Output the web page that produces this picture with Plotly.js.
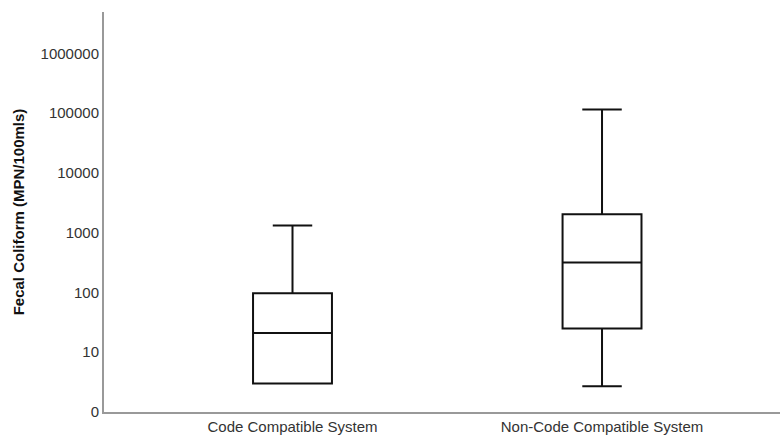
<!DOCTYPE html>
<html>
<head>
<meta charset="utf-8">
<script src="https://cdn.plot.ly/plotly-3.0.1.min.js"></script>
<style>html,body{margin:0;padding:0;background:#fff;}#chart{width:780px;height:439px;}</style>
</head>
<body>
<div id="chart"></div>
<script>
var categories = ["Code Compatible System", "Non-Code Compatible System"];
var lowerWhisker = [3, 2.7];
var q1Values = [3, 25];
var medianValues = [21, 318];
var q3Values = [97, 2030];
var upperWhisker = [1320, 115000];
var yTickValues = [1, 10, 100, 1000, 10000, 100000, 1000000];
var yTickLabels = ["0", "10", "100", "1000", "10000", "100000", "1000000"];

var trace = {
  type: "box",
  x: categories,
  q1: q1Values,
  median: medianValues,
  q3: q3Values,
  lowerfence: lowerWhisker,
  upperfence: upperWhisker,
  width: 0.255,
  whiskerwidth: 0.5,
  fillcolor: "#ffffff",
  line: {color: "#111111", width: 2},
  boxpoints: false,
  hoverinfo: "skip",
  showlegend: false
};

var layout = {
  width: 780,
  height: 439,
  margin: {l: 104, r: 0, t: 12, b: 27},
  paper_bgcolor: "#ffffff",
  plot_bgcolor: "#ffffff",
  font: {family: "Liberation Sans, Arial, sans-serif", size: 15, color: "#333333"},
  xaxis: {
    type: "category",
    range: [-0.609, 1.575],
    showgrid: false,
    zeroline: false,
    showline: true,
    linecolor: "#999999",
    linewidth: 2,
    ticks: "",
    tickfont: {size: 15, color: "#333333"},
    fixedrange: true
  },
  yaxis: {
    type: "log",
    range: [0, 6.69],
    tickvals: yTickValues,
    ticktext: yTickLabels,
    showgrid: false,
    zeroline: false,
    showline: true,
    linecolor: "#999999",
    linewidth: 2,
    ticks: "",
    tickfont: {size: 15, color: "#333333"},
    title: {text: "Fecal Coliform (MPN/100mls)", font: {size: 15, color: "#111111", family: "Liberation Sans, Arial, sans-serif", weight: "bold"}, standoff: 12},
    fixedrange: true
  }
};

Plotly.newPlot("chart", [trace], layout, {displayModeBar: false, staticPlot: true});
</script>
</body>
</html>
